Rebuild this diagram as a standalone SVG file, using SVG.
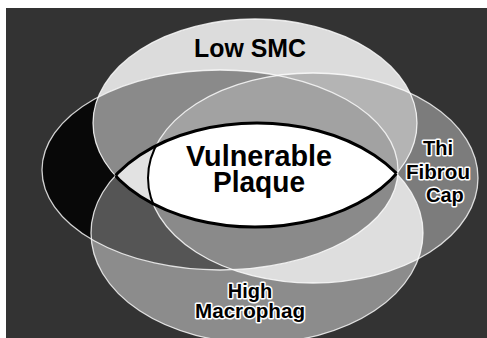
<svg xmlns="http://www.w3.org/2000/svg" xmlns:xlink="http://www.w3.org/1999/xlink" width="487" height="338" viewBox="0 0 487 338">
<defs>
  <ellipse id="eT" cx="255" cy="123" rx="162" ry="104"/>
  <ellipse id="eB" cx="257" cy="233" rx="166" ry="110"/>
  <ellipse id="eL" cx="220" cy="170" rx="178" ry="100"/>
  <ellipse id="eR" cx="313" cy="178" rx="165" ry="105"/>
  <clipPath id="cT"><ellipse cx="255" cy="123" rx="162" ry="104"/></clipPath>
  <clipPath id="cB"><ellipse cx="257" cy="233" rx="166" ry="110"/></clipPath>
  <clipPath id="cL"><ellipse cx="220" cy="170" rx="178" ry="100"/></clipPath>
  <clipPath id="cR"><ellipse cx="313" cy="178" rx="165" ry="105"/></clipPath>
</defs>
<style>
  .lbl{font-family:"Liberation Sans",Arial,Helvetica,sans-serif;font-weight:bold;fill:#000}
  .halo{stroke:#fff;stroke-width:3;paint-order:stroke;stroke-linejoin:round}
  .edge{fill:none;stroke:#fff;stroke-width:1.3;stroke-opacity:.8}
  .lens{fill:none;stroke:#000;stroke-width:3}
</style>
<rect x="0" y="0" width="487" height="338" fill="#fff"/>
<g id="background">
  <rect x="6" y="8" width="481" height="330" fill="#333"/>
</g>
<g id="set-left">
  <use xlink:href="#eL" fill="#080808"/>
</g>
<g id="set-thin-fibrous-cap">
  <use xlink:href="#eR" fill="#7c7c7c"/>
</g>
<g id="set-low-smc">
  <use xlink:href="#eT" fill="#dcdcdc"/>
</g>
<g id="set-high-macrophage">
  <use xlink:href="#eB" fill="#8c8c8c"/>
</g>
<g id="overlaps">
  <g clip-path="url(#cT)"><use xlink:href="#eL" fill="#8a8a8a"/></g>
  <g clip-path="url(#cT)"><use xlink:href="#eR" fill="#b4b4b4"/></g>
  <g clip-path="url(#cB)"><use xlink:href="#eL" fill="#555"/></g>
  <g clip-path="url(#cB)"><use xlink:href="#eR" fill="#dedede"/></g>
  <g clip-path="url(#cT)"><use xlink:href="#eR" clip-path="url(#cL)" fill="#a2a2a2"/></g>
  <g clip-path="url(#cB)"><use xlink:href="#eR" clip-path="url(#cL)" fill="#8a8a8a"/></g>
  <g clip-path="url(#cB)"><use xlink:href="#eT" fill="#e2e2e2"/></g>
  <g clip-path="url(#cB)"><use xlink:href="#eR" clip-path="url(#cT)" fill="#fff"/></g>
</g>
<g id="outlines">
  <use xlink:href="#eL" class="edge"/>
  <use xlink:href="#eR" class="edge"/>
  <use xlink:href="#eT" class="edge"/>
  <use xlink:href="#eB" class="edge"/>
  <g clip-path="url(#cB)"><use xlink:href="#eT" class="lens"/></g>
  <g clip-path="url(#cT)"><use xlink:href="#eB" class="lens"/></g>
  <g clip-path="url(#cT)"><g clip-path="url(#cB)"><use xlink:href="#eR" style="fill:none;stroke:#000;stroke-width:2"/></g></g>
</g>
<g id="label-low-smc">
  <text class="lbl" x="250" y="57" font-size="26" text-anchor="middle" textLength="112" lengthAdjust="spacingAndGlyphs">Low SMC</text>
</g>
<g id="label-vulnerable-plaque">
  <text class="lbl" x="259" y="166" font-size="30" text-anchor="middle" textLength="146" lengthAdjust="spacingAndGlyphs">Vulnerable</text>
  <text class="lbl" x="259" y="192" font-size="30" text-anchor="middle" textLength="92" lengthAdjust="spacingAndGlyphs">Plaque</text>
</g>
<g id="label-thin-fibrous-cap">
  <text class="lbl halo" x="423" y="155" font-size="20">Thi</text>
  <text class="lbl halo" x="406" y="179" font-size="20" textLength="64" lengthAdjust="spacingAndGlyphs">Fibrou</text>
  <text class="lbl halo" x="426" y="202" font-size="20">Cap</text>
</g>
<g id="label-high-macrophage">
  <text class="lbl halo" x="250" y="298" font-size="20" text-anchor="middle">High</text>
  <text class="lbl halo" x="250" y="318" font-size="20" text-anchor="middle" textLength="110" lengthAdjust="spacingAndGlyphs">Macrophag</text>
</g>
</svg>
